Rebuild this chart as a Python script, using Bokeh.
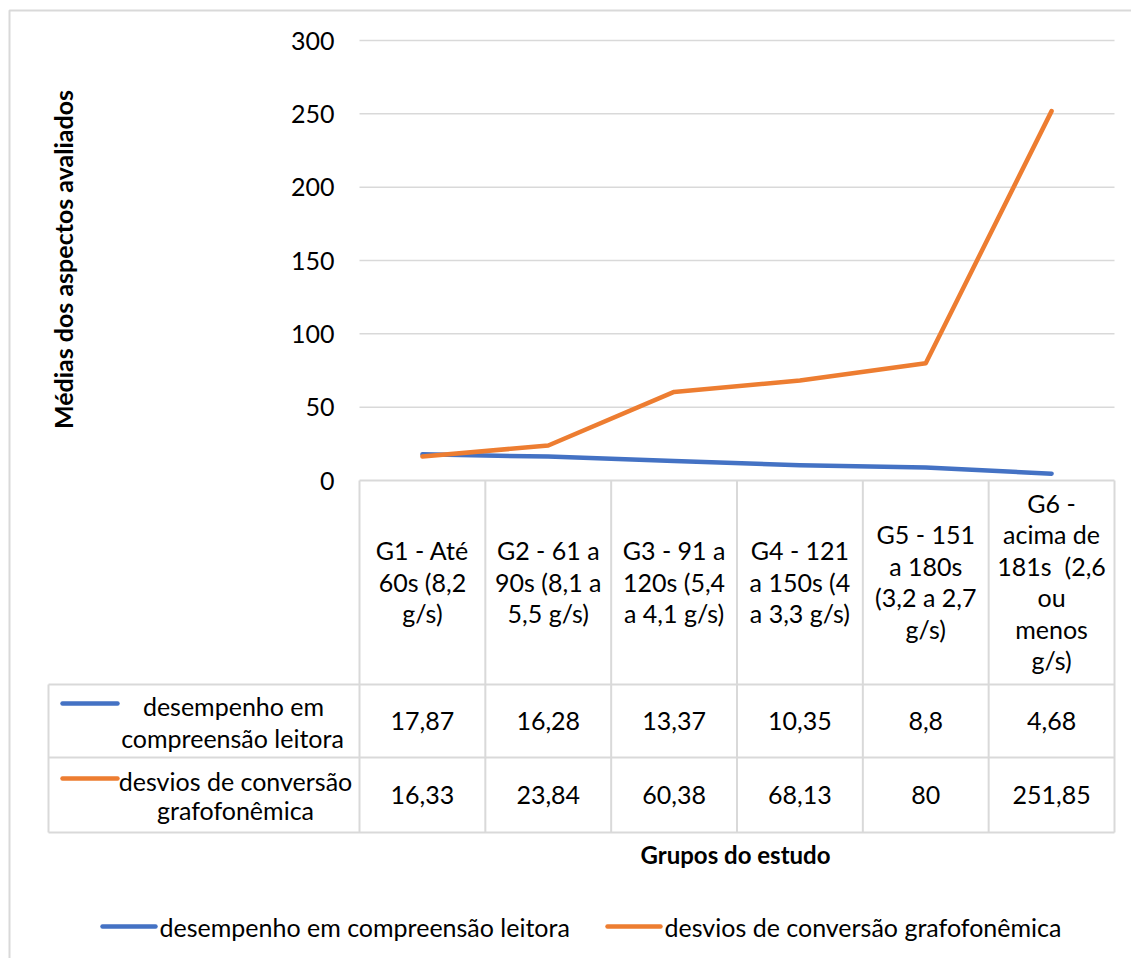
from bokeh.plotting import figure
from bokeh.embed import file_html
from bokeh.resources import INLINE
from bokeh.core.properties import value
import math

# ---------------- data ----------------
categories = [
    "G1 - Até 60s (8,2 g/s)",
    "G2 - 61 a 90s (8,1 a 5,5 g/s)",
    "G3 - 91 a 120s (5,4 a 4,1 g/s)",
    "G4 - 121 a 150s (4 a 3,3 g/s)",
    "G5 - 151 a 180s (3,2 a 2,7 g/s)",
    "G6 - acima de 181s  (2,6 ou menos g/s)",
]
category_lines = [
    ["G1 - Até", "60s (8,2", "g/s)"],
    ["G2 - 61 a", "90s (8,1 a", "5,5 g/s)"],
    ["G3 - 91 a", "120s (5,4", "a 4,1 g/s)"],
    ["G4 - 121", "a 150s (4", "a 3,3 g/s)"],
    ["G5 - 151", "a 180s", "(3,2 a 2,7", "g/s)"],
    ["G6 -", "acima de", "181s\u00a0 (2,6", "ou", "menos", "g/s)"],
]
reading = [17.87, 16.28, 13.37, 10.35, 8.8, 4.68]
deviations = [16.33, 23.84, 60.38, 68.13, 80, 251.85]
series_names = ["desempenho em compreensão leitora", "desvios de conversão grafofonêmica"]
series_lines = [["desempenho em", "compreensão leitora"], ["desvios de conversão", "grafofonêmica"]]
y_ticks = [0, 50, 100, 150, 200, 250, 300]
y_title = "Médias dos aspectos avaliados"
x_title = "Grupos do estudo"

# ---------------- layout helpers ----------------
W, H = 1131, 958
LEFT, RIGHT = 359.0, 1114.0
TOP, ZERO = 40.0, 480.0
PXC = (RIGHT - LEFT) / len(categories)
PPU = (ZERO - TOP) / 300.0

def X(px):
    return (px - LEFT) / PXC - 0.5

def Y(py):
    return (ZERO - py) / PPU

FONT = value("Lato")
FS = "25px"
GRID = "#D9D9D9"
BLUE = "#4472C4"
ORANGE = "#ED7D31"
TXT = "#000000"

p = figure(width=W, height=H, output_backend="svg", toolbar_location=None,
           x_range=(X(0), X(W)), y_range=(Y(H), Y(0)),
           x_axis_location=None, y_axis_location=None, min_border=0)
p.grid.visible = False
p.outline_line_color = None
p.background_fill_color = "white"
p.border_fill_color = "white"

# outer chart border (left and top)
p.line(x=[X(9), X(9), X(W + 5)], y=[Y(H + 5), Y(10), Y(10)], line_color=GRID, line_width=2)

# gridlines
gv = [v for v in y_ticks if v > 0]
p.segment(x0=[-0.5] * len(gv), x1=[len(categories) - 0.5] * len(gv), y0=gv, y1=gv,
          line_color=GRID, line_width=1.5)

# y tick labels
p.text(x=[X(334)] * len(y_ticks), y=y_ticks, text=[str(v) for v in y_ticks],
       text_align="right", text_baseline="middle", text_font=FONT, text_font_size=FS,
       text_color=TXT)

# table lines
n = len(categories)
rows_py = [684, 757, 832]
p.segment(x0=[-0.5], x1=[n - 0.5], y0=[0], y1=[0], line_color=GRID, line_width=2)
p.segment(x0=[X(48)] * 3, x1=[n - 0.5] * 3, y0=[Y(r) for r in rows_py], y1=[Y(r) for r in rows_py],
          line_color=GRID, line_width=2)
vx = [i - 0.5 for i in range(n + 1)]
p.segment(x0=vx, x1=vx, y0=[0] * len(vx), y1=[Y(832)] * len(vx), line_color=GRID, line_width=2)
p.segment(x0=[X(48)], x1=[X(48)], y0=[Y(684)], y1=[Y(832)], line_color=GRID, line_width=2)

# header texts
LH = 31.5
hx, hy, ht = [], [], []
for i, lines in enumerate(category_lines):
    k = len(lines)
    c = 581.0
    for j, t in enumerate(lines):
        hx.append(i)
        hy.append(Y(c + (j - (k - 1) / 2) * LH))
        ht.append(t)
p.text(x=hx, y=hy, text=ht, text_align="center", text_baseline="middle",
       text_font=FONT, text_font_size=FS, text_color=TXT)

def fmt(v):
    return f"{v:g}".replace(".", ",")

xs = list(range(n))
p.text(x=xs, y=[Y(720)] * n, text=[fmt(v) for v in reading], text_align="center",
       text_baseline="middle", text_font=FONT, text_font_size=FS, text_color=TXT)
p.text(x=xs, y=[Y(794)] * n, text=[fmt(v) for v in deviations], text_align="center",
       text_baseline="middle", text_font=FONT, text_font_size=FS, text_color=TXT)

# series lines
p.line(x=xs, y=reading, line_color=BLUE, line_width=4.5, line_join="round", line_cap="round")
p.line(x=xs, y=deviations, line_color=ORANGE, line_width=4.5, line_join="round", line_cap="round")

# legend keys inside table
p.segment(x0=[X(62), X(62)], x1=[X(117), X(117)], y0=[Y(703), Y(778)], y1=[Y(703), Y(778)],
          line_color=[BLUE, ORANGE], line_width=4.5, line_cap="round")
p.text(x=[X(233), X(232)], y=[Y(705), Y(737)], text=series_lines[0], text_align="center",
       text_baseline="middle", text_font=FONT, text_font_size=FS, text_color=TXT)
p.text(x=[X(235), X(235)], y=[Y(780), Y(809)], text=series_lines[1], text_align="center",
       text_baseline="middle", text_font=FONT, text_font_size=FS, text_color=TXT)

# axis titles
p.text(x=[X(62)], y=[Y(259)], text=[y_title], angle=math.pi / 2, text_align="center",
       text_baseline="middle", text_font=FONT, text_font_size="25px", text_font_style="bold",
       text_color=TXT)
p.text(x=[X(735)], y=[Y(854)], text=[x_title], text_align="center", text_baseline="middle",
       text_font=FONT, text_font_size="24px", text_font_style="bold", text_color=TXT)

# bottom legend
p.segment(x0=[X(102), X(607)], x1=[X(155), X(660)], y0=[Y(926), Y(926)], y1=[Y(926), Y(926)],
          line_color=[BLUE, ORANGE], line_width=4.5, line_cap="round")
p.text(x=[X(159), X(664)], y=[Y(926), Y(926)], text=series_names, text_align="left",
       text_baseline="middle", text_font=FONT, text_font_size=FS, text_color=TXT)

open("out.html", "w").write(file_html(p, INLINE))
